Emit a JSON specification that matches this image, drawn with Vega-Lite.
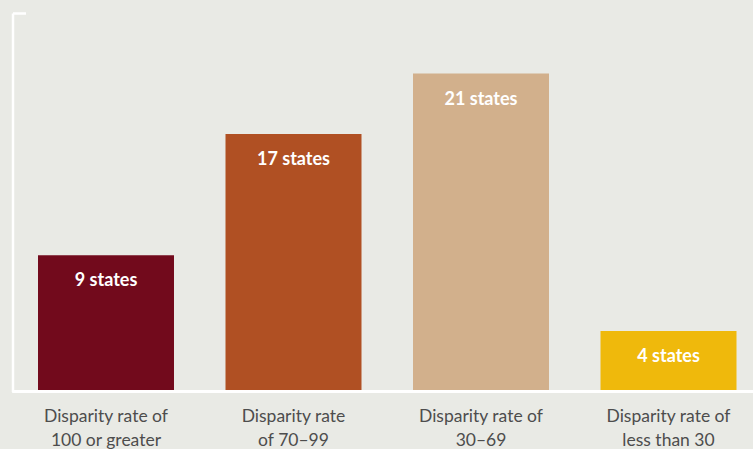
{
  "$schema": "https://vega.github.io/schema/vega-lite/v6.json",
  "autosize": "none",
  "width": 740.5,
  "height": 378.5,
  "padding": {"left": 12.5, "top": 13, "right": 0, "bottom": 57.5},
  "background": "#e9eae5",
  "view": {"stroke": null},
  "config": {"font": "Lato"},
  "data": {"values": [
    {"group": "Disparity rate of\n100 or greater", "states": 9, "label": "9 states", "color": "a"},
    {"group": "Disparity rate\nof 70–99", "states": 17, "label": "17 states", "color": "b"},
    {"group": "Disparity rate of\n30–69", "states": 21, "label": "21 states", "color": "c"},
    {"group": "Disparity rate of\nless than 30", "states": 4, "label": "4 states", "color": "d"}
  ]},
  "encoding": {
    "x": {"field": "group", "type": "nominal", "sort": null,
      "scale": {"range": [25.5, 724], "paddingInner": 0.2747, "paddingOuter": 0},
      "axis": {"title": null, "domain": false, "ticks": false, "labelAngle": 0,
        "labelExpr": "split(datum.label, '\\n')", "labelFontSize": 17.5, "labelLineHeight": 23.5,
        "labelColor": "#4d4d4d", "labelPadding": 16, "labelFont": "Lato"}}
  },
  "layer": [
    {
      "mark": {"type": "bar"},
      "encoding": {
        "y": {"field": "states", "type": "quantitative", "scale": {"domain": [0, 25], "nice": false},
          "axis": {"title": null, "labels": false, "grid": false, "values": [25], "tickSize": -13,
            "tickColor": "white", "tickWidth": 2.5, "domainColor": "white", "domainWidth": 2.5}},
        "color": {"field": "color", "type": "nominal", "legend": null,
          "scale": {"domain": ["a", "b", "c", "d"], "range": ["#720a1c", "#b05023", "#d2b08c", "#efb90c"]}}
      }
    },
    {
      "mark": {"type": "text", "color": "white", "fontSize": 18, "fontWeight": "bold", "baseline": "middle", "dy": 26},
      "encoding": {
        "y": {"field": "states", "type": "quantitative"},
        "text": {"field": "label"}
      }
    },
    {
      "mark": {"type": "rule", "color": "white", "strokeWidth": 2.5},
      "encoding": {"y": {"datum": 0}, "x": null}
    }
  ]
}
